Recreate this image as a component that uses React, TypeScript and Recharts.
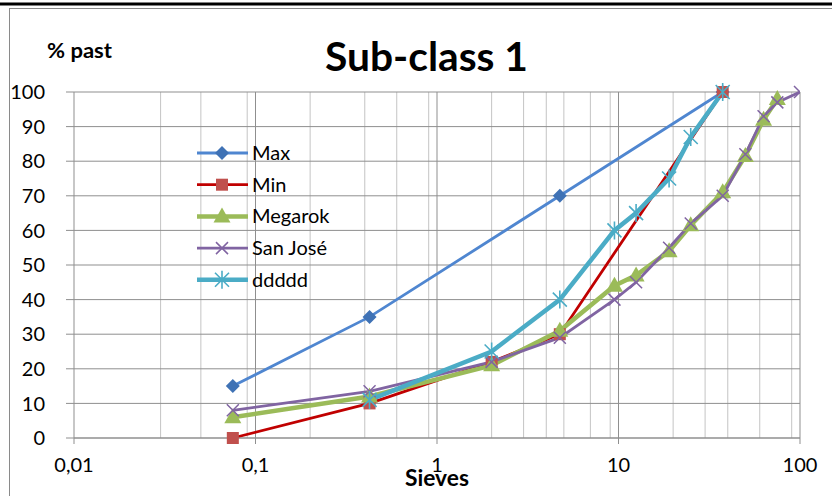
import { LineChart, Line, XAxis, YAxis, CartesianGrid, Legend } from "recharts";

// sieve openings (mm) and % passing for each curve
const maxSieves = [0.075, 0.425, 4.75, 37.5];
const maxPass = [15, 35, 70, 100];

const minSieves = [0.075, 0.425, 2, 4.75, 37.5];
const minPass = [0, 10, 22, 30, 100];

const megarokSieves = [0.075, 0.425, 2, 4.75, 9.5, 12.5, 19, 25, 37.5, 50, 63, 75];
const megarokPass = [6, 12, 21, 31, 44, 47, 54, 61.5, 71, 81.5, 92, 98];

const sanJoseSieves = [0.075, 0.425, 2, 4.75, 9.5, 12.5, 19, 25, 37.5, 50, 63, 75, 100];
const sanJosePass = [8, 13.5, 22, 29, 40, 45, 55, 62, 70, 82, 93, 97, 100];

const dddddSieves = [0.425, 2, 4.75, 9.5, 12.5, 19, 25, 37.5];
const dddddPass = [11, 25, 40, 60, 65, 75, 87, 100];

const xTicks = [0.01, 0.1, 1, 10, 100];
const yTicks = [0, 10, 20, 30, 40, 50, 60, 70, 80, 90, 100];

const toRows = (xs: number[], ys: number[]) => xs.map((x, i) => ({ x, y: ys[i] }));

// 2..9 within each decade for the light vertical lines
const minorLines: number[] = [];
for (const d of [0.01, 0.1, 1, 10]) {
  for (let k = 2; k <= 9; k++) minorLines.push(+(k * d).toPrecision(3));
}

const FONT = "Lato, 'Liberation Sans', sans-serif";

type Shape = "diamond" | "square" | "triangle" | "cross" | "star";

function Marker({ shape, cx, cy }: { shape: Shape; cx: number; cy: number }) {
  switch (shape) {
    case "diamond":
      return <path d={`M${cx},${cy - 7}L${cx + 7},${cy}L${cx},${cy + 7}L${cx - 7},${cy}Z`} fill="#3F72B5" />;
    case "square":
      return <rect x={cx - 6} y={cy - 6} width={12} height={12} fill="#C0504D" />;
    case "triangle":
      return <path d={`M${cx},${cy - 9}L${cx + 8.5},${cy + 6}L${cx - 8.5},${cy + 6}Z`} fill="#9BBB59" />;
    case "cross":
      return (
        <path
          d={`M${cx - 6},${cy - 6}L${cx + 6},${cy + 6}M${cx - 6},${cy + 6}L${cx + 6},${cy - 6}`}
          stroke="#8064A2"
          strokeWidth={1.5}
        />
      );
    default:
      return (
        <path
          d={`M${cx - 7},${cy - 7}L${cx + 7},${cy + 7}M${cx - 7},${cy + 7}L${cx + 7},${cy - 7}M${cx},${cy - 9}L${cx},${cy + 9}`}
          stroke="#4BACC6"
          strokeWidth={1.6}
        />
      );
  }
}

const seriesList = [
  { name: "Max", rows: toRows(maxSieves, maxPass), color: "#4F86D0", width: 2.8, shape: "diamond" as Shape },
  { name: "Min", rows: toRows(minSieves, minPass), color: "#C00000", width: 2.8, shape: "square" as Shape },
  { name: "Megarok", rows: toRows(megarokSieves, megarokPass), color: "#9BBB59", width: 4.5, shape: "triangle" as Shape },
  { name: "San José", rows: toRows(sanJoseSieves, sanJosePass), color: "#8064A2", width: 2.8, shape: "cross" as Shape },
  { name: "ddddd", rows: toRows(dddddSieves, dddddPass), color: "#4BACC6", width: 4.5, shape: "star" as Shape },
];

function LegendBox() {
  return (
    <svg width={160} height={165}>
      {seriesList.map((s, i) => {
        const y = 16 + i * 31.7;
        return (
          <g key={s.name}>
            <line x1={7} x2={58} y1={y} y2={y} stroke={s.color} strokeWidth={s.width} />
            <Marker shape={s.shape} cx={32} cy={y} />
            <text x={62} y={y + 7} fontSize={20} fontFamily={FONT} fill="#000">
              {s.name}
            </text>
          </g>
        );
      })}
    </svg>
  );
}

const fmtX = (v: number) => String(v).replace(".", ",");

export default function App() {
  return (
    <div style={{ position: "absolute", left: 0, top: 0, width: 832, height: 496, background: "#fff", overflow: "hidden" }}>
      <LineChart width={832} height={496} margin={{ top: 92, right: 32, bottom: 0, left: 0 }}>
        <CartesianGrid horizontal={false} verticalValues={minorLines} stroke="#c4c4c4" strokeWidth={1} />
        <CartesianGrid verticalValues={xTicks} stroke="#8f8f8f" strokeWidth={1} />
        <XAxis
          dataKey="x"
          type="number"
          scale="log"
          domain={[0.01, 100]}
          ticks={xTicks}
          allowDataOverflow
          tickFormatter={fmtX}
          height={58}
          axisLine={{ stroke: "#8f8f8f" }}
          tickLine={{ stroke: "#8f8f8f" }}
          tickSize={6}
          tickMargin={14}
          tick={{ fill: "#000", fontSize: 20, fontFamily: FONT }}
        />
        <YAxis
          type="number"
          domain={[0, 100]}
          ticks={yTicks}
          width={74}
          axisLine={false}
          tickLine={{ stroke: "#8f8f8f" }}
          tickSize={8}
          tickMargin={21}
          tick={{ fill: "#000", fontSize: 20, fontFamily: FONT }}
        />
        <Legend
          layout="vertical"
          align="center"
          verticalAlign="middle"
          content={() => <LegendBox />}
          wrapperStyle={{ left: 190, top: 137, width: 160, height: 165 }}
        />
        {seriesList.map((s) => (
          <Line
            key={s.name}
            name={s.name}
            data={s.rows}
            dataKey="y"
            type="linear"
            stroke={s.color}
            strokeWidth={s.width}
            isAnimationActive={false}
            dot={(p: any) => <Marker key={`${s.name}-${p.index}`} shape={s.shape} cx={p.cx} cy={p.cy} />}
            activeDot={false}
          />
        ))}
      </LineChart>
      <svg width={832} height={496} style={{ position: "absolute", left: 0, top: 0, pointerEvents: "none" }}>
        <line x1={0} x2={832} y1={4} y2={4} stroke="#000" strokeWidth={3} />
        <rect x={9.5} y={8.5} width={840} height={500} fill="none" stroke="#8a8a8a" strokeWidth={1} />
        <text x={325} y={71} fontSize={40} fontWeight="bold" fontFamily={FONT} textLength={203} lengthAdjust="spacingAndGlyphs">
          Sub-class 1
        </text>
        <text x={47} y={58} fontSize={21} fontWeight="bold" fontFamily={FONT} textLength={65} lengthAdjust="spacingAndGlyphs">
          % past
        </text>
        <text x={405} y={486} fontSize={22} fontWeight="bold" fontFamily={FONT} textLength={64} lengthAdjust="spacingAndGlyphs">
          Sieves
        </text>
      </svg>
    </div>
  );
}
